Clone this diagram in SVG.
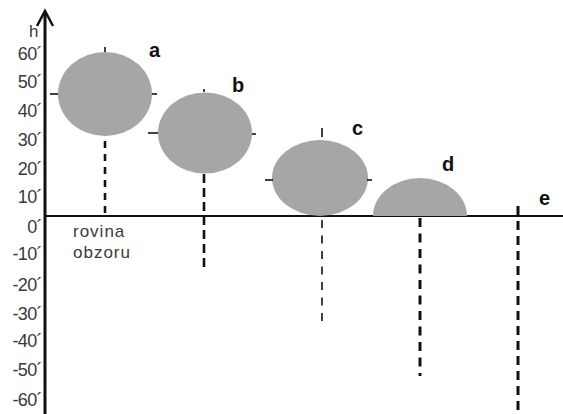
<svg xmlns="http://www.w3.org/2000/svg" width="563" height="414" viewBox="0 0 563 414">
<style>
.lbl{font-family:"Liberation Sans",Arial,sans-serif;font-size:18px;fill:#3a3a3a;text-anchor:end;letter-spacing:-0.6px}
.txt{font-family:"Liberation Sans",Arial,sans-serif;font-size:17px;fill:#3a3a3a;letter-spacing:1px}
.let{font-family:"Liberation Sans",Arial,sans-serif;font-size:20px;font-weight:bold;fill:#111}
.body{fill:#a6a6a6}
.tick{stroke:#111;stroke-width:1.6}
.dash{stroke:#111;fill:none}
</style>
<rect width="563" height="414" fill="#fff"/>
<g id="axes">
<line x1="45" y1="12" x2="45" y2="414" stroke="#111" stroke-width="3"/>
<polyline points="37,26 45,11 53,26" fill="none" stroke="#111" stroke-width="2.5"/>
<line x1="45" y1="216" x2="563" y2="216" stroke="#111" stroke-width="2"/>
<text class="txt" x="29" y="37" style="letter-spacing:0">h</text>
<text class="lbl" x="42" y="60">60´</text>
<text class="lbl" x="42" y="88">50´</text>
<text class="lbl" x="42" y="117">40´</text>
<text class="lbl" x="42" y="146">30´</text>
<text class="lbl" x="42" y="175">20´</text>
<text class="lbl" x="42" y="203">10´</text>
<text class="lbl" x="42" y="233">0´</text>
<text class="lbl" x="42" y="260">-10´</text>
<text class="lbl" x="42" y="291">-20´</text>
<text class="lbl" x="42" y="320">-30´</text>
<text class="lbl" x="42" y="347">-40´</text>
<text class="lbl" x="42" y="376">-50´</text>
<text class="lbl" x="42" y="406">-60´</text>
<text class="txt" x="73" y="237">rovina</text>
<text class="txt" x="73" y="258">obzoru</text>
</g>
<g id="connectors">
<line class="dash" x1="105" y1="141" x2="105" y2="219" stroke-width="2.6" stroke-dasharray="7 6"/>
<line class="dash" x1="204" y1="174" x2="204" y2="272" stroke-width="2.6" stroke-dasharray="9 5"/>
<line class="dash" x1="322" y1="220" x2="322" y2="328" stroke-width="1.6" stroke-dasharray="8 7.5"/>
<line class="dash" x1="420" y1="218" x2="420" y2="376" stroke-width="3" stroke-dasharray="9 6.5"/>
<line class="dash" x1="518" y1="206" x2="518" y2="414" stroke-width="3" stroke-dasharray="9 6"/>
</g>
<g id="a">
<ellipse class="body" cx="105" cy="94" rx="47" ry="42"/>
<line class="tick" x1="105" y1="47" x2="105" y2="52"/>
<line class="tick" x1="50" y1="94" x2="58" y2="94"/>
<line class="tick" x1="152" y1="94" x2="157" y2="94"/>
<text class="let" x="149" y="57">a</text>
</g>
<g id="b">
<ellipse class="body" cx="205" cy="133" rx="47" ry="40.5"/>
<line class="tick" x1="204" y1="89" x2="204" y2="92"/>
<line class="tick" x1="148" y1="133" x2="158" y2="133"/>
<line class="tick" x1="252" y1="134" x2="256" y2="134"/>
<text class="let" x="232" y="92">b</text>
</g>
<g id="c">
<ellipse class="body" cx="320" cy="178" rx="48" ry="38"/>
<line class="tick" x1="322" y1="128" x2="322" y2="137"/>
<line class="tick" x1="265" y1="180" x2="273" y2="180"/>
<line class="tick" x1="367" y1="180" x2="372" y2="180"/>
<text class="let" x="352" y="135">c</text>
</g>
<g id="d">
<path class="body" d="M373,216 A47,38 0 0 1 467,216 Z"/>
<text class="let" x="442" y="171">d</text>
</g>
<g id="e">
<text class="let" x="539" y="205">e</text>
</g>
</svg>
